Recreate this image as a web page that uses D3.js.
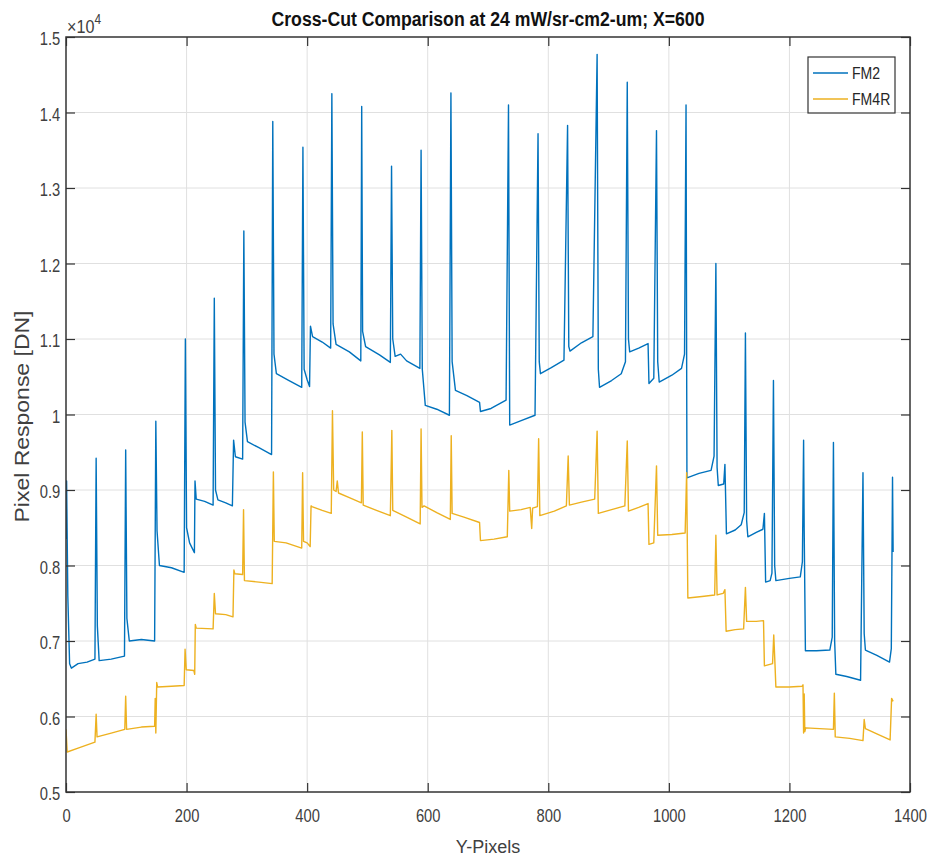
<!DOCTYPE html>
<html>
<head>
<meta charset="utf-8">
<script src="https://cdn.jsdelivr.net/npm/d3@7"></script>
<style>
  body { margin: 0; background: #fff; }
</style>
</head>
<body>
<div id="output"></div>
<script>
const seriesNames = ["FM2", "FM4R"];
const seriesColors = ["#0072bd", "#edb120"];
const xTicks = [0, 200, 400, 600, 800, 1000, 1200, 1400];
const yTicks = [5000, 6000, 7000, 8000, 9000, 10000, 11000, 12000, 13000, 14000, 15000];

const fm2 = [
    [0, 8350], [1, 9120], [3, 7600], [6, 6700], [9, 6640], [20, 6700], [35, 6720], [48, 6760],
    [50, 9420], [52, 7200], [55, 6740], [75, 6760], [97, 6800],
    [99, 9530], [101, 7300], [105, 7000], [125, 7020], [147, 7000],
    [149, 9910], [151, 8460], [155, 8000], [175, 7970], [196, 7910],
    [198, 11000], [200, 8500], [205, 8300], [213, 8170],
    [214, 9120], [216, 8880], [230, 8850], [244, 8800],
    [246, 11540], [248, 9000], [252, 8870], [265, 8830], [276, 8790],
    [278, 9660], [281, 9440], [293, 9410],
    [295, 12430], [297, 9900], [301, 9640], [320, 9560], [341, 9470],
    [343, 13880], [345, 10800], [349, 10540], [370, 10450], [391, 10360],
    [393, 13540], [395, 10600], [400, 10460], [404, 10370],
    [405.5, 11170], [409, 11030], [425, 10960], [439, 10880],
    [441, 14250], [443, 11200], [448, 10930], [470, 10830], [489, 10710],
    [490.5, 14080], [492, 11100], [497, 10900], [520, 10790], [538, 10690],
    [540, 13290], [542, 11000], [546, 10770], [555, 10800], [565, 10710], [587, 10610],
    [589, 13500], [591, 10600], [596, 10120], [615, 10070], [636, 9990],
    [638.5, 14260], [640.5, 10700], [646, 10320], [665, 10250], [686, 10160],
    [687.5, 10040], [705, 10080], [730, 10190],
    [734, 14100], [736, 9860], [755, 9920], [778, 9990],
    [783, 13720], [785, 10700], [787, 10540], [805, 10620], [826, 10720],
    [832, 13830], [834, 10900], [836, 10840], [855, 10950], [874, 11030],
    [881, 14770], [883, 10600], [885, 10360], [905, 10450], [921, 10540], [928, 10700],
    [931, 14400], [933, 11000], [935, 10830], [950, 10880], [965.5, 10940],
    [967, 10410], [975, 10480], [979.5, 13760], [981.5, 10700], [984, 10430], [1005, 10520], [1021, 10610], [1026, 10800],
    [1028.5, 14100], [1030, 9160], [1050, 9220], [1070, 9260], [1075, 9450],
    [1078, 12000], [1080, 9300], [1082, 9060], [1091, 9080],
    [1093, 9340], [1095.5, 8420], [1110, 8470], [1120, 8540], [1125, 8700],
    [1127, 11080], [1129, 8600], [1131, 8380], [1145, 8440], [1156, 8480],
    [1158.5, 8690], [1160.5, 7780], [1168, 7800], [1171, 7900],
    [1173.5, 10450], [1175.5, 8000], [1177.5, 7800], [1200, 7830], [1218, 7850], [1221.5, 8050],
    [1223.5, 9660], [1224.5, 8460], [1226.5, 6870], [1245, 6870], [1267, 6880], [1271, 7050],
    [1273, 9630], [1275, 7000], [1277, 6560], [1295, 6530], [1318, 6480],
    [1322, 9230], [1324, 7100], [1326, 6880], [1345, 6810], [1366, 6720], [1369, 6900],
    [1371, 9170], [1372, 8180]
];

const fm4r = [
    [0, 5830], [2, 5530], [20, 5580], [48, 5660],
    [50, 6030], [51.5, 5730], [75, 5780], [97.5, 5830],
    [99, 6270], [100.5, 5830], [125, 5860], [147, 5870],
    [148, 6240], [149, 5780], [150.5, 6450], [152, 6390], [175, 6400], [196, 6410],
    [197.5, 6890], [199.5, 6620], [212, 6610], [213.5, 6560],
    [214.5, 7220], [216, 7170], [244, 7160],
    [246, 7630], [248, 7360], [265, 7350], [277, 7320],
    [278.5, 7940], [280, 7890], [293, 7880],
    [294.5, 8740], [296, 7800], [320, 7780], [342, 7760],
    [344, 9240], [345.5, 8320], [365, 8300], [391, 8230],
    [392.5, 9230], [394, 8320], [400, 8300], [405, 8250],
    [406.5, 8790], [408, 8780], [425, 8730], [440, 8690],
    [442, 10050], [444, 9000], [448, 8980], [450, 9120], [452, 8960], [470, 8900], [490, 8830],
    [491.5, 9770], [493, 8800], [515, 8730], [538, 8660],
    [540.5, 9790], [542, 8730], [565, 8640], [587.5, 8550],
    [589, 9810], [590.5, 8770], [594, 8790], [615, 8700], [637.5, 8610],
    [639, 9720], [640.5, 8690], [660, 8640], [686, 8570],
    [687.5, 8330], [710, 8350], [732, 8380],
    [734.5, 9260], [736, 8720], [755, 8740], [770, 8770], [772.5, 8490], [774, 8760], [782, 8780],
    [784, 9680], [786, 8660], [810, 8720], [830, 8790],
    [833, 9450], [835, 8800], [855, 8840], [877, 8880],
    [881, 9780], [883, 8690], [905, 8740], [927, 8790],
    [931, 9650], [933, 8720], [950, 8770], [965.5, 8820],
    [967, 8280], [975, 8300], [979.5, 9320], [981.5, 8400], [1005, 8410], [1027, 8430],
    [1029.5, 9230], [1031.5, 7570], [1055, 7590], [1076, 7610],
    [1078, 8400], [1080, 7610], [1090, 7630], [1093, 7680],
    [1095, 7130], [1110, 7150], [1124, 7160],
    [1127, 7710], [1129, 7260], [1145, 7260], [1157, 7270],
    [1158.5, 6670], [1172, 6700],
    [1174, 7080], [1176, 6700], [1177.5, 6390], [1200, 6390], [1221, 6400],
    [1222.5, 6420], [1223.5, 5780], [1224.5, 6300], [1225.5, 5800], [1227, 5850], [1250, 5840], [1273, 5830],
    [1274.5, 6310], [1276, 5730], [1300, 5710], [1322, 5680],
    [1324, 5960], [1326, 5840], [1345, 5770], [1367, 5690],
    [1369.5, 6240], [1372, 6200]
];

const titleText = "Cross-Cut Comparison at 24 mW/sr-cm2-um; X=600";
const xLabel = "Y-Pixels";
const yLabel = "Pixel Response [DN]";

function draw() {
    document.getElementById('output').innerHTML = '';
    const W = 933, H = 860;
    const left = 66, right = 910, top = 37, bottom = 792;
    const axisColor = "#333333";
    const textColor = "#404040";
    const gridColor = "#e0e0e0";
    const font = "'Liberation Sans', Arial, Helvetica, sans-serif";

    const svg = d3.select("#output").append("svg").attr("width", W).attr("height", H);

    const x = d3.scaleLinear().domain([0, 1400]).range([left, right]);
    const y = d3.scaleLinear().domain([5000, 15000]).range([bottom, top]);

    let grid = svg.append('g');
    for (let t of xTicks.slice(1, -1)) {
        grid.append("line")
            .attr("x1", x(t)).attr("x2", x(t))
            .attr("y1", top).attr("y2", bottom)
            .style("stroke", gridColor).style("stroke-width", 1);
    }
    for (let t of yTicks.slice(1, -1)) {
        grid.append("line")
            .attr("x1", left).attr("x2", right)
            .attr("y1", y(t)).attr("y2", y(t))
            .style("stroke", gridColor).style("stroke-width", 1);
    }

    svg.append("clipPath").attr("id", "plotClip")
        .append("rect")
        .attr("x", left).attr("y", top)
        .attr("width", right - left).attr("height", bottom - top);

    const line = d3.line().x(d => x(d[0])).y(d => y(d[1]));
    const allSeries = [fm2, fm4r];
    let lines = svg.append('g').attr("clip-path", "url(#plotClip)");
    for (let i in allSeries) {
        lines.append("path")
            .datum(allSeries[i])
            .attr("d", line)
            .style("fill", "none")
            .style("stroke", seriesColors[i])
            .style("stroke-width", 1.4)
            .style("stroke-linejoin", "round");
    }

    const fmt = d => String(d / 10000);
    const xAxis = svg.append('g')
        .attr("transform", "translate(0," + bottom + ")")
        .call(d3.axisBottom(x).tickValues(xTicks).tickSize(-9).tickPadding(17).tickFormat(d3.format("d")));
    const yAxis = svg.append('g')
        .attr("transform", "translate(" + left + ",0)")
        .call(d3.axisLeft(y).tickValues(yTicks).tickSize(-9).tickPadding(7).tickFormat(fmt));
    const xAxisTop = svg.append('g')
        .attr("transform", "translate(0," + top + ")")
        .call(d3.axisTop(x).tickValues(xTicks).tickSize(-9).tickFormat(""));
    const yAxisRight = svg.append('g')
        .attr("transform", "translate(" + right + ",0)")
        .call(d3.axisRight(y).tickValues(yTicks).tickSize(-9).tickFormat(""));

    for (let a of [xAxis, yAxis, xAxisTop, yAxisRight]) {
        a.select(".domain").remove();
        a.selectAll(".tick line").style("stroke", axisColor).style("stroke-width", 1.2);
        a.selectAll(".tick text")
            .style("fill", textColor)
            .style("font-family", font)
            .style("font-size", "18px")
            .attr("transform", "scale(0.82,1)");
    }
    yAxis.selectAll(".tick text").attr("dy", "0.43em");

    svg.append("rect")
        .attr("x", left).attr("y", top)
        .attr("width", right - left).attr("height", bottom - top)
        .style("fill", "none")
        .style("stroke", axisColor)
        .style("stroke-width", 1.5);

    svg.append("text")
        .attr("x", (left + right) / 2)
        .attr("y", 26)
        .attr("textLength", 433)
        .attr("lengthAdjust", "spacingAndGlyphs")
        .style("text-anchor", "middle")
        .style("font-family", font)
        .style("font-weight", "bold")
        .style("font-size", "20px")
        .style("fill", "#111")
        .text(titleText);

    let exp = svg.append("text")
        .attr("transform", "translate(67,33) scale(0.85,1)")
        .style("font-family", font)
        .style("font-size", "19px")
        .style("fill", textColor);
    exp.append("tspan").text("\u00d710");
    exp.append("tspan").attr("dy", -9).style("font-size", "14px").text("4");

    svg.append("text")
        .attr("x", 488)
        .attr("y", 853)
        .style("text-anchor", "middle")
        .style("font-family", font)
        .style("font-size", "18px")
        .style("fill", textColor)
        .text(xLabel);

    svg.append("text")
        .attr("transform", "translate(29," + ((top + bottom) / 2 + 2) + ") rotate(-90)")
        .attr("textLength", 212)
        .attr("lengthAdjust", "spacingAndGlyphs")
        .style("text-anchor", "middle")
        .style("font-family", font)
        .style("font-size", "20px")
        .style("fill", textColor)
        .text(yLabel);

    let lg = svg.append('g');
    lg.append("rect")
        .attr("x", 808).attr("y", 57)
        .attr("width", 87).attr("height", 56)
        .style("fill", "#fff")
        .style("stroke", axisColor)
        .style("stroke-width", 1.2);
    for (let i in seriesNames) {
        let ly = 73 + i * 26;
        lg.append("line")
            .attr("x1", 813).attr("x2", 848)
            .attr("y1", ly).attr("y2", ly)
            .style("stroke", seriesColors[i])
            .style("stroke-width", 1.4);
        lg.append("text")
            .attr("transform", "translate(852," + (ly + 6) + ") scale(0.88,1)")
            .style("font-family", font)
            .style("font-size", "16px")
            .style("fill", "#262626")
            .text(seriesNames[i]);
    }
}

draw();
</script>
</body>
</html>
